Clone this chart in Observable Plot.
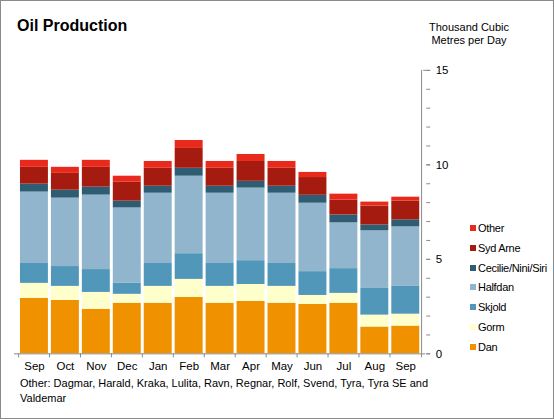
<!DOCTYPE html>
<html>
<head>
<meta charset="utf-8">
<script src="https://cdn.jsdelivr.net/npm/d3@7"></script>
<script src="https://cdn.jsdelivr.net/npm/@observablehq/plot@0.6"></script>
<style>
  html, body { margin: 0; padding: 0; background: #fff; }
  #frame { position: relative; width: 552px; height: 417px; border: 1px solid #8a8a8a; overflow: hidden;
           font-family: "Liberation Sans", Arial, sans-serif; color: #000; }
  #plot { position: absolute; left: -1px; top: -1px; }
  .title { position: absolute; left: 16px; top: 16px; font-size: 16px; font-weight: bold; }
  .unit { position: absolute; left: 418px; top: 20px; width: 100px; text-align: center; font-size: 11px; line-height: 13px; }
  .caption { position: absolute; left: 19px; top: 375px; font-size: 11px; line-height: 15px; }
  .legend { position: absolute; left: 469px; top: 220px; font-size: 11px; letter-spacing: -0.3px; }
  .legend div { height: 19.8px; line-height: 14px; white-space: nowrap; }
  .legend span.sw { display: inline-block; width: 6px; height: 6px; margin-right: 2px; vertical-align: 1px; }
</style>
</head>
<body>
<div id="frame">
  <div id="plot"></div>
  <div class="title">Oil Production</div>
  <div class="unit">Thousand Cubic<br>Metres per Day</div>
  <div class="legend" id="legend"></div>
  <div class="caption">Other: Dagmar, Harald, Kraka, Lulita, Ravn, Regnar, Rolf, Svend, Tyra, Tyra SE and<br>Valdemar</div>
</div>
<script>
const months = ["Sep","Oct","Nov","Dec","Jan","Feb","Mar","Apr","May","Jun","Jul","Aug","Sep"];
const seriesNames = ["Dan","Gorm","Skjold","Halfdan","Cecilie/Nini/Siri","Syd Arne","Other"];
const seriesColors = ["#F09100","#FFFFCC","#5197BA","#91B5CC","#2E5D73","#A61B10","#E8291C"];

const dan      = [2.94, 2.83, 2.36, 2.68, 2.68, 2.99, 2.68, 2.78, 2.68, 2.62, 2.68, 1.42, 1.47];
const gorm     = [0.79, 0.74, 0.89, 0.47, 0.89, 0.95, 0.89, 0.89, 0.89, 0.47, 0.52, 0.63, 0.63];
const skjold   = [1.05, 1.05, 1.21, 0.58, 1.21, 1.36, 1.21, 1.26, 1.21, 1.26, 1.31, 1.41, 1.47];
const halfdan  = [3.78, 3.62, 3.94, 3.99, 3.72, 4.10, 3.72, 3.84, 3.72, 3.62, 2.42, 3.05, 3.15];
const cecilie  = [0.42, 0.42, 0.42, 0.36, 0.37, 0.42, 0.37, 0.36, 0.37, 0.42, 0.42, 0.31, 0.37];
const sydArne  = [0.89, 0.89, 1.05, 1.00, 0.95, 1.05, 0.95, 1.05, 0.95, 0.94, 0.79, 1.00, 0.99];
const other    = [0.37, 0.32, 0.37, 0.32, 0.36, 0.42, 0.36, 0.37, 0.36, 0.27, 0.31, 0.21, 0.21];
const yTicks = [0, 5, 10, 15];

const seriesValues = [dan, gorm, skjold, halfdan, cecilie, sydArne, other];
const data = [];
seriesNames.forEach((s, k) => seriesValues[k].forEach((v, i) => data.push({i, series: s, value: v})));

const W = 554, H = 419;
const mL = 14, mR = 128, mT = 70, mB = 65;
const step = (W - mL - mR) / months.length;
const axisColor = "#8a8a8a";

const chart = Plot.plot({
  width: W, height: H,
  marginLeft: mL, marginRight: mR, marginTop: mT, marginBottom: mB,
  style: {fontFamily: "'Liberation Sans', Arial, sans-serif", fontSize: "11.5px", color: "#000", background: "transparent"},
  x: {domain: d3.range(months.length), paddingInner: 0.085, paddingOuter: 0.0425},
  y: {domain: [0, 15]},
  color: {domain: seriesNames, range: seriesColors},
  marks: [
    Plot.barY(data, {x: "i", y: "value", fill: "series", order: seriesNames}),
    Plot.ruleY([0], {stroke: axisColor}),
    Plot.ruleX([months.length - 1], {dx: step / 2, stroke: axisColor}),
    Plot.axisX({tickSize: 0, tickPadding: 8, tickFormat: i => months[i], label: null, fill: "#000"}),
    Plot.axisX({tickSize: 4, tickFormat: () => "", label: null, dx: -step / 2, stroke: axisColor}),
    Plot.axisX([months.length - 1], {tickSize: 4, tickFormat: () => "", label: null, dx: step / 2, stroke: axisColor}),
    Plot.axisY(yTicks, {anchor: "right", tickSize: 4, tickPadding: 6, label: null, stroke: axisColor, fill: "#000"}),
    Plot.axisY(d3.range(0, 16), {anchor: "right", tickSize: 4, tickFormat: () => "", label: null, stroke: axisColor}),
    Plot.axisY([15], {anchor: "right", tickSize: 3, tickFormat: () => "", label: null, dx: -3, stroke: axisColor})
  ]
});
document.getElementById("plot").appendChild(chart);

const legend = document.getElementById("legend");
for (let k = seriesNames.length - 1; k >= 0; k--) {
  const row = document.createElement("div");
  row.innerHTML = `<span class="sw" style="background:${seriesColors[k]}"></span>${seriesNames[k]}`;
  legend.appendChild(row);
}
</script>
</body>
</html>
